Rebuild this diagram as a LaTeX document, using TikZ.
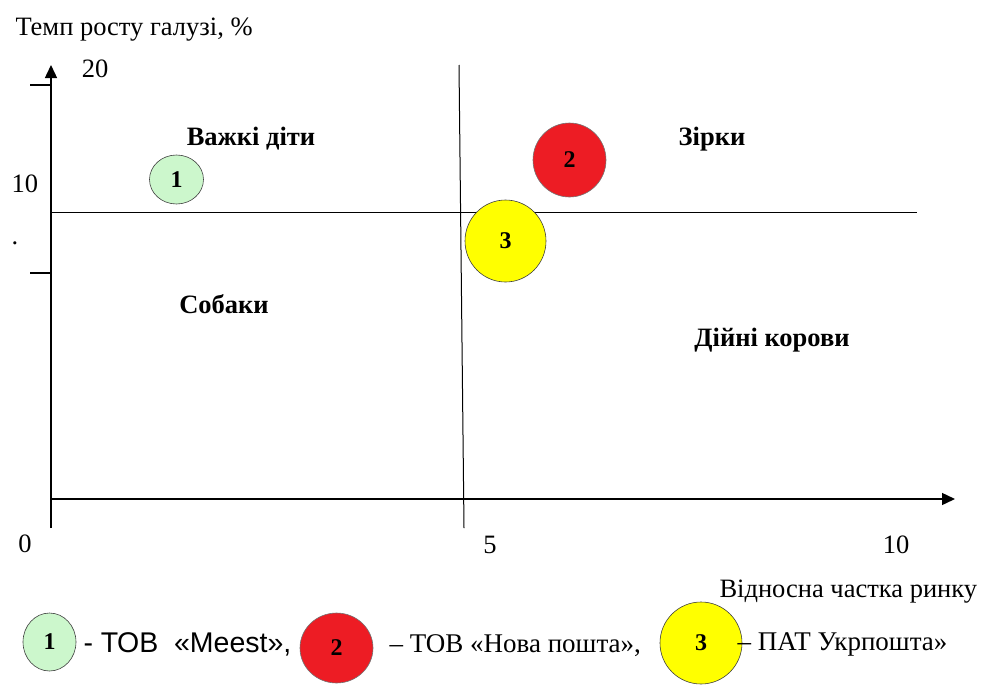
\documentclass[tikz,border=0pt]{standalone}
\usepackage{fontspec}
\setmainfont{Liberation Serif}
\newfontfamily\legendsans{Liberation Sans}
\usetikzlibrary{arrows.meta,shapes.geometric}
\definecolor{bubblegreen}{HTML}{CCF7CC}
\definecolor{bubblered}{HTML}{ED1C24}
\definecolor{bubbleyellow}{HTML}{FFFF00}

\begin{document}
\begin{tikzpicture}[x=1pt, y=-1pt,
    axis/.style={line width=1.4pt, -{Triangle[length=13pt,width=12pt]}},
    divider/.style={line width=1pt},
    quadrant/.style={font=\fontsize{26.5}{30}\selectfont\bfseries, anchor=base},
    plain/.style={font=\fontsize{26.5}{30}\selectfont, anchor=base},
    keytext/.style={font=\fontsize{27}{31}\selectfont, anchor=base west},
    bubble/.style={ellipse, draw=black!75, line width=0.6pt, inner sep=0pt,
        font=\fontsize{24}{28}\selectfont\bfseries}]
		%%%%% START %%%%%
		\useasboundingbox (0,0) rectangle (983,699);
		
		% axes
		\coordinate (origin) at (51,528);
		\coordinate (ytip) at (51,65);
		\coordinate (xstart) at (51,499);
		\coordinate (xtip) at (955,499);
		\draw[axis] (origin) -- (ytip);
		\draw[axis] (xstart) -- (xtip);
		
		\coordinate (tickhi) at (30,85);
		\coordinate (tickhiend) at (51,85);
		\coordinate (ticklo) at (30,273);
		\coordinate (ticklowend) at (51,273);
		\draw[line width=1.2pt] (tickhi) -- (tickhiend);
		\draw[line width=1.2pt] (ticklo) -- (ticklowend);
		
		% quadrant dividers
		\coordinate (vtop) at (459,65);
		\coordinate (vbot) at (464,528);
		\coordinate (hleft) at (51,212);
		\coordinate (hright) at (917,212);
		\draw[divider] (vtop) -- (vbot);
		\draw[divider] (hleft) -- (hright);
		
		% axis labels
		\node[plain, anchor=base west] (ytitle) at (12,35) {Темп росту галузі, \%};
		\node[plain] (ytwenty) at (95,77) {20};
		\node[plain] (yten) at (25,192) {10};
		\node[plain] (ydot) at (15,244) {.};
		\node[plain] (xzero) at (25,552) {0};
		\node[plain] (xfive) at (490,553) {5};
		\node[plain] (xten) at (896,553) {10};
		\node[plain, anchor=base west] (xtitle) at (716,597) {Відносна частка ринку};
		
		% quadrant names
		\node[quadrant] (problem) at (251,145) {Важкі діти};
		\node[quadrant] (stars) at (712,145) {Зірки};
		\node[quadrant] (dogs) at (224,313) {Собаки};
		\node[quadrant] (cows) at (772,346) {Дійні корови};
		
		% companies
		\node[bubble, fill=bubblegreen, minimum width=54pt, minimum height=49pt] (meest) at (176.5,179.5) {1};
		\node[bubble, fill=bubblered, draw=black!55, minimum width=73pt, minimum height=74pt] (nova) at (569.5,160) {2};
		\node[bubble, fill=bubbleyellow, minimum width=81pt, minimum height=82pt] (ukr) at (505.5,241) {3};
		
		% legend
		\node[bubble, fill=bubblegreen, minimum width=53pt, minimum height=58pt] (keymeest) at (49.5,642) {1};
		\node[bubble, fill=bubblered, draw=black!55, minimum width=73pt, minimum height=70pt] (keynova) at (336.5,648) {2};
		\node[bubble, fill=bubbleyellow, minimum width=82pt, minimum height=82pt] (keyukr) at (701,643) {3};
		\node[keytext, font=\fontsize{28.5}{32}\selectfont\legendsans] (namemeest) at (80,652) {-~ТОВ~~«Meest»,};
		\node[keytext] (namenova) at (386,652) {– ТОВ «Нова пошта»,};
		\node[keytext] (nameukr) at (734,650) {– ПАТ Укрпошта»};
		%%%%% END %%%%%
	\end{tikzpicture}
\end{document}
